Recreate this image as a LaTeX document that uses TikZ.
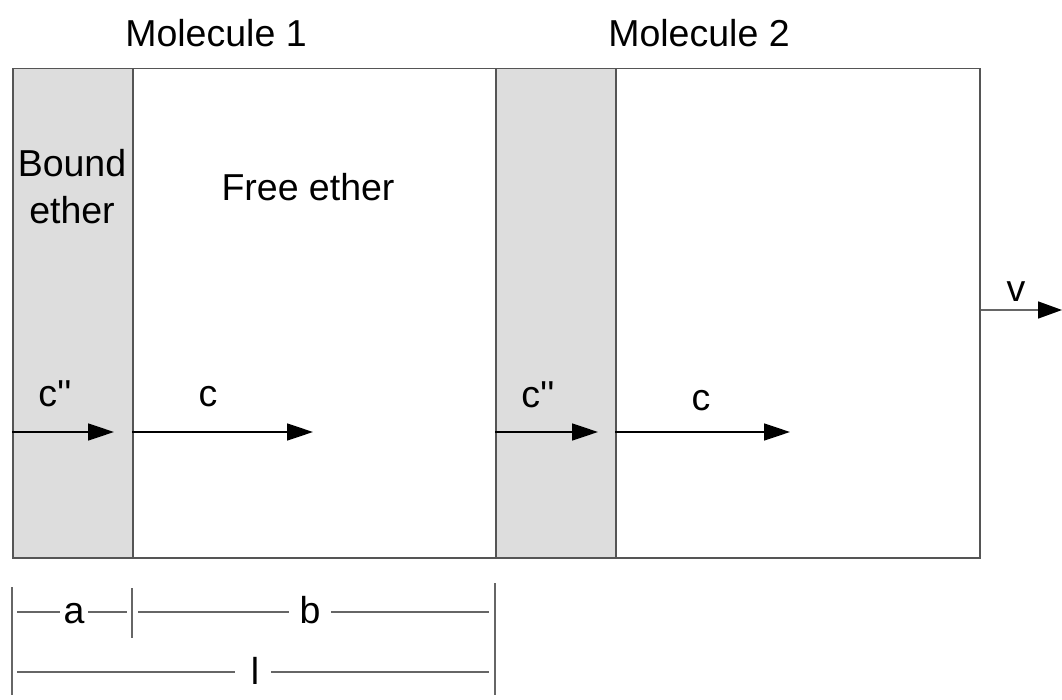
\documentclass[tikz,border=0pt]{standalone}
\usepackage{fontspec}
\setmainfont{Liberation Sans}[Ligatures=TeXOff]
\usetikzlibrary{arrows.meta}
\definecolor{bandgray}{HTML}{DDDDDD}
\definecolor{edgegray}{HTML}{555555}
\definecolor{dimgray}{HTML}{666666}
\begin{document}
\begin{tikzpicture}[x=1pt,y=-1pt,
  lbl/.style={font=\fontsize{37.5}{40}\selectfont, inner sep=0pt, anchor=center},
  blbl/.style={font=\fontsize{37.5}{40}\selectfont, inner sep=0pt, anchor=base},
  region/.style={draw=edgegray, line width=1.5pt, inner sep=0pt, anchor=north west, minimum height=489pt},
  flow/.style={line width=1.5pt, -{Triangle[length=26pt,width=17pt]}},
  dimline/.style={draw=dimgray, line width=1.5pt},
  tick/.style={draw=dimgray, line width=1.5pt}]
\useasboundingbox (0,0) rectangle (1062,700);
% regions
\node[region, fill=bandgray, minimum width=120pt] (bound1) at (12,68) {};
\node[region, minimum width=363pt] (free1) at (132,68) {};
\node[region, fill=bandgray, minimum width=120pt] (bound2) at (495,68) {};
\node[region, minimum width=364pt] (free2) at (615,68) {};
% titles
\node[lbl] (mol1) at (216,33) {Molecule 1};
\node[lbl] (mol2) at (699,33) {Molecule 2};
\node[lbl, align=center, text width=120pt, font=\fontsize{37.5}{47}\selectfont] (bt) at (72,187) {Bound\\ether};
\node[lbl] (ft) at (308,187) {Free ether};
% flow arrows
\coordinate (e1) at (114,432);
\coordinate (e2) at (313,432);
\coordinate (e3) at (598,432);
\coordinate (e4) at (790,432);
\coordinate (e5) at (1062,310);
\draw[flow] (bound1.west |- e1) -- (e1);
\draw[flow] (free1.west |- e2) -- (e2);
\draw[flow] (bound2.west |- e3) -- (e3);
\draw[flow] (free2.west |- e4) -- (e4);
\draw[line width=1.5pt, draw=dimgray, -{Triangle[length=24pt,width=17pt,color=black,fill=black]}] (free2.east |- e5) -- (e5);
\node[blbl] (cpp1) at (55,406) {c''};
\node[blbl] (c1) at (208,406) {c};
\node[blbl] (cpp2) at (538,407) {c''};
\node[blbl] (c2) at (701,410) {c};
\node[blbl] (v) at (1016,302) {v};
% dimensions
\coordinate (t1a) at (12,587);
\coordinate (t1b) at (12,695);
\coordinate (t2a) at (132,588);
\coordinate (t2b) at (132,638);
\coordinate (t3a) at (495,583);
\coordinate (t3b) at (495,695);
\draw[tick] (t1a) -- (t1b);
\draw[tick] (t2a) -- (t2b);
\draw[tick] (t3a) -- (t3b);
\node[blbl] (la) at (74,623) {a};
\node[blbl] (lb) at (310,623) {b};
\node[blbl] (ll) at (255,684) {l};
\coordinate (a1) at (17,612);
\coordinate (a2) at (60,612);
\coordinate (a3) at (88,612);
\coordinate (a4) at (127,612);
\coordinate (b1) at (138,612);
\coordinate (b2) at (289,612);
\coordinate (b3) at (331,612);
\coordinate (b4) at (489,612);
\coordinate (l1) at (17,672);
\coordinate (l2) at (235,672);
\coordinate (l3) at (271,672);
\coordinate (l4) at (489,672);
\draw[dimline] (a1) -- (a2);
\draw[dimline] (a3) -- (a4);
\draw[dimline] (b1) -- (b2);
\draw[dimline] (b3) -- (b4);
\draw[dimline] (l1) -- (l2);
\draw[dimline] (l3) -- (l4);
\end{tikzpicture}
\end{document}
